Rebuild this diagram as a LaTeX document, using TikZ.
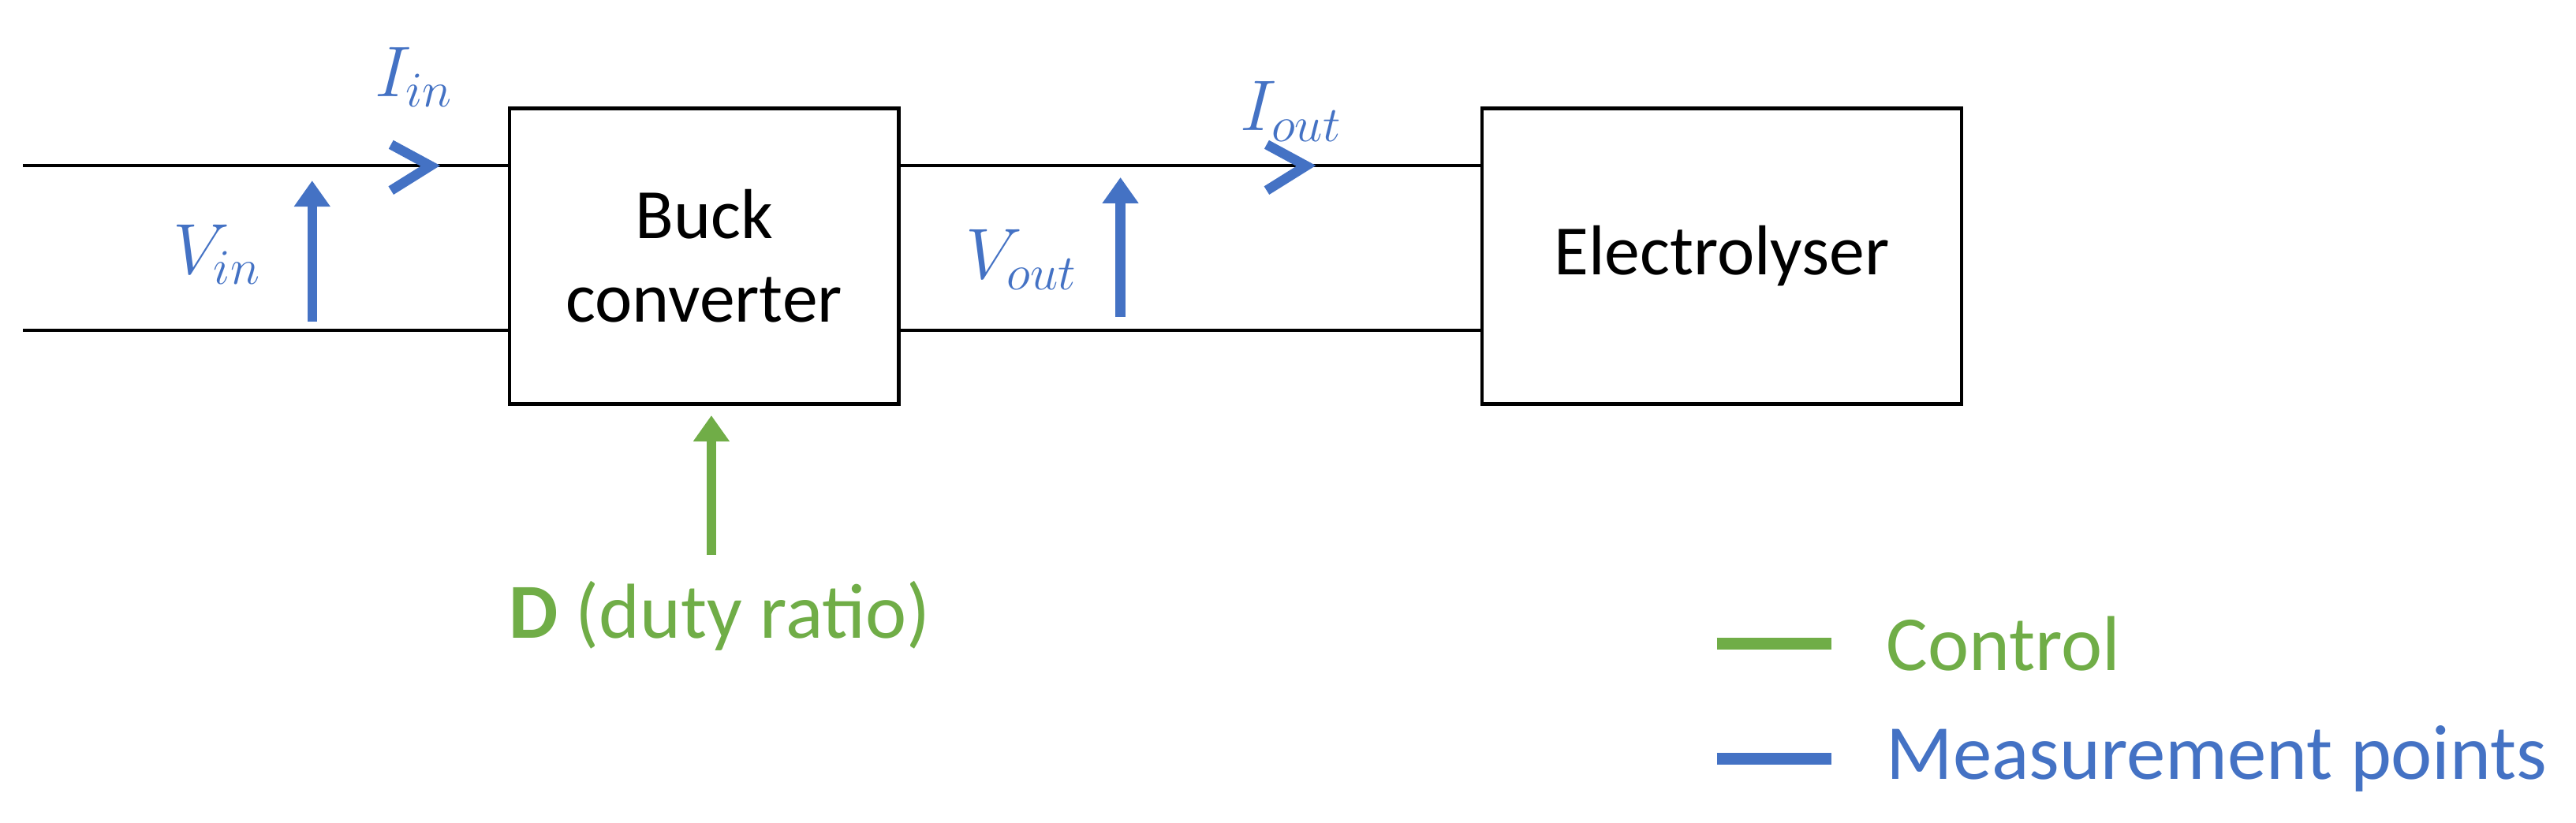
\documentclass[tikz,border=0pt]{standalone}
\usepackage{fontspec}
\setmainfont{Carlito}
\usetikzlibrary{arrows.meta}
\definecolor{mblue}{RGB}{68,114,196}
\definecolor{mgreen}{RGB}{112,173,71}
\begin{document}
\begin{tikzpicture}[x=0.02cm,y=-0.02cm,
  box/.style={draw,line width=1.2pt,minimum width=237*0.02cm,minimum height=180*0.02cm,font=\fontsize{24.5}{29}\selectfont,align=center},
  wire/.style={line width=1.1pt},
  meas/.style={mblue,line width=3.4pt,-{Triangle[length=9pt,width=12pt]}},
  chev/.style={mblue,line width=3.4pt},
  ctrl/.style={mgreen,line width=3.4pt,-{Triangle[length=9pt,width=12pt]}},
  lbl/.style={mblue,font=\fontsize{25}{30}\selectfont},
  leg/.style={font=\fontsize{27}{32}\selectfont}]
\useasboundingbox (0,0) rectangle (1568,501);
\node[box] (buck) at (428.5,156) {Buck\\converter};
\node[box,minimum width=292*0.02cm] (ely) at (1048,156) {Electrolyser};
\coordinate (inT) at (14,101); \coordinate (inB) at (14,201);
\draw[wire] (inT) -- (inT -| buck.west);
\draw[wire] (inB) -- (inB -| buck.west);
\draw[wire] (inT -| buck.east) -- (inT -| ely.west);
\draw[wire] (inB -| buck.east) -- (inB -| ely.west);
\coordinate (v1a) at (190,196); \coordinate (v1b) at (190,110);
\draw[meas] (v1a) -- (v1b);
\node[lbl] (vin) at (132,155) {$V_{in}$};
\coordinate (c1a) at (238,88); \coordinate (c1b) at (262,101); \coordinate (c1c) at (238,116);
\draw[chev] (c1a) -- (c1b) -- (c1c);
\node[lbl] (iin) at (252,47) {$I_{in}$};
\coordinate (v2a) at (682,193); \coordinate (v2b) at (682,108);
\draw[meas] (v2a) -- (v2b);
\node[lbl] (vout) at (622,158) {$V_{out}$};
\coordinate (c2a) at (771,88); \coordinate (c2b) at (795,101); \coordinate (c2c) at (771,116);
\draw[chev] (c2a) -- (c2b) -- (c2c);
\node[lbl] (iout) at (786,68) {$I_{out}$};
\coordinate (da) at (433,338);
\draw[ctrl] (da) -- (433,253);
\node[mgreen,leg] (d) at (438,375) {\textbf{D} (duty ratio)};
\coordinate (l1a) at (1045,392); \coordinate (l1b) at (1115,392);
\draw[mgreen,line width=4pt] (l1a) -- (l1b);
\node[mgreen,leg,anchor=west] (lc) at (1142,392) {Control};
\coordinate (l2a) at (1045,462); \coordinate (l2b) at (1115,462);
\draw[mblue,line width=4pt] (l2a) -- (l2b);
\node[mblue,leg,anchor=west] (lm) at (1142,462) {Measurement points};
\end{tikzpicture}
\end{document}
